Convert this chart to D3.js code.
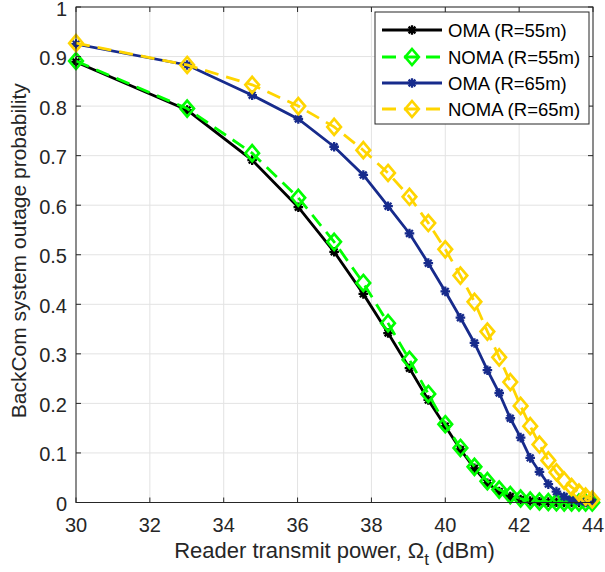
<!DOCTYPE html>
<html><head><meta charset="utf-8">
<script src="https://cdn.jsdelivr.net/npm/d3@7"></script>
<style>body{margin:0;background:#fff}svg{display:block}text{font-family:"Liberation Sans",Arial,Helvetica,sans-serif;fill:#262626}</style>
</head><body>
<script>
const xVals = [30, 33.01, 34.77, 36.02, 36.99, 37.78, 38.45, 39.03, 39.54, 40, 40.41, 40.79, 41.14, 41.46, 41.76, 42.04, 42.30, 42.55, 42.79, 43.01, 43.22, 43.42, 43.62, 43.80, 43.98];
const omaR55 = [0.889, 0.792, 0.691, 0.596, 0.506, 0.421, 0.342, 0.271, 0.207, 0.154, 0.107, 0.069, 0.039, 0.022, 0.012, 0.006, 0.003, 0.0015, 0.0008, 0.0004, 0.0002, 0.0001, 0, 0, 0];
const nomaR55 = [0.891, 0.795, 0.705, 0.615, 0.526, 0.443, 0.362, 0.288, 0.219, 0.158, 0.110, 0.072, 0.043, 0.026, 0.015, 0.008, 0.004, 0.002, 0.001, 0.0005, 0.0002, 0.0001, 0, 0, 0];
const omaR65 = [0.925, 0.883, 0.822, 0.774, 0.718, 0.661, 0.598, 0.543, 0.483, 0.426, 0.373, 0.322, 0.267, 0.221, 0.170, 0.131, 0.090, 0.062, 0.037, 0.022, 0.012, 0.006, 0.003, 0.001, 0.0005];
const nomaR65 = [0.927, 0.883, 0.843, 0.800, 0.758, 0.711, 0.665, 0.617, 0.564, 0.511, 0.458, 0.405, 0.345, 0.293, 0.243, 0.195, 0.154, 0.117, 0.085, 0.061, 0.044, 0.031, 0.020, 0.012, 0.006];
const xTicks = [30, 32, 34, 36, 38, 40, 42, 44];
const yTicks = [0, 0.1, 0.2, 0.3, 0.4, 0.5, 0.6, 0.7, 0.8, 0.9, 1];
const seriesNames = ["OMA (R=55m)", "NOMA (R=55m)", "OMA (R=65m)", "NOMA (R=65m)"];

const W = 605, H = 572;
const m = {left: 76, right: 12, top: 7, bottom: 69.5};
const svg = d3.select("body").append("svg").attr("width", W).attr("height", H);
const x = d3.scaleLinear().domain([30, 44]).range([m.left, W - m.right]);
const y = d3.scaleLinear().domain([0, 1]).range([H - m.bottom, m.top]);

// grid
const grid = svg.append("g");
grid.selectAll(".gx").data(xTicks).join("line")
  .attr("x1", d => x(d)).attr("x2", d => x(d)).attr("y1", y(0)).attr("y2", y(1))
  .attr("stroke", "#e3e3e3").attr("stroke-width", 1);
grid.selectAll(".gy").data(yTicks).join("line")
  .attr("y1", d => y(d)).attr("y2", d => y(d)).attr("x1", x(30)).attr("x2", x(44))
  .attr("stroke", "#e3e3e3").attr("stroke-width", 1);

const styles = [
  {color: "#000000", dash: null, marker: "star"},
  {color: "#00ff00", dash: "14,8", marker: "diamond"},
  {color: "#172b8c", dash: null, marker: "star"},
  {color: "#ffd500", dash: "14,8", marker: "diamond"}
];
const allData = [omaR55, nomaR55, omaR65, nomaR65];

function starPath(s) {
  const a = s * 0.707;
  return `M${-s},0L${s},0M0,${-s}L0,${s}M${-a},${-a}L${a},${a}M${-a},${a}L${a},${-a}`;
}
function diamondPath(w, h) {
  return `M0,${-h}L${w},0L0,${h}L${-w},0Z`;
}
function drawMarker(g, type, color) {
  if (type === "star") {
    g.append("path").attr("d", starPath(4.8)).attr("stroke", color).attr("stroke-width", 2.3).attr("fill", "none");
  } else {
    g.append("path").attr("d", diamondPath(6.8, 8)).attr("stroke", color).attr("stroke-width", 2.7).attr("fill", "none").attr("stroke-linejoin", "miter");
  }
}

const clipId = "plotclip";
svg.append("clipPath").attr("id", clipId).append("rect")
  .attr("x", x(30)).attr("y", y(1)).attr("width", x(44) - x(30)).attr("height", y(0) - y(1));

const line = d3.line().x(d => x(d[0])).y(d => y(d[1]));
allData.forEach((vals, i) => {
  const st = styles[i];
  const pts = xVals.map((xv, j) => [xv, vals[j]]);
  const g = svg.append("g");
  g.append("path").datum(pts).attr("d", line).attr("fill", "none")
    .attr("stroke", st.color).attr("stroke-width", 2.8)
    .attr("stroke-dasharray", st.dash).attr("clip-path", `url(#${clipId})`);
  pts.forEach(p => {
    const mg = g.append("g").attr("transform", `translate(${x(p[0])},${y(p[1])})`);
    drawMarker(mg, st.marker, st.color);
  });
});

// axes box
const ax = svg.append("g");
ax.append("rect").attr("x", x(30)).attr("y", y(1)).attr("width", x(44) - x(30)).attr("height", y(0) - y(1))
  .attr("fill", "none").attr("stroke", "#262626").attr("stroke-width", 1);
const tl = 5;
xTicks.forEach(t => {
  ax.append("line").attr("x1", x(t)).attr("x2", x(t)).attr("y1", y(0)).attr("y2", y(0) - tl).attr("stroke", "#262626");
  ax.append("line").attr("x1", x(t)).attr("x2", x(t)).attr("y1", y(1)).attr("y2", y(1) + tl).attr("stroke", "#262626");
  ax.append("text").attr("x", x(t)).attr("y", y(0) + 29).attr("text-anchor", "middle")
    .attr("font-size", 20).text(t);
});
yTicks.forEach(t => {
  ax.append("line").attr("y1", y(t)).attr("y2", y(t)).attr("x1", x(30)).attr("x2", x(30) + tl).attr("stroke", "#262626");
  ax.append("line").attr("y1", y(t)).attr("y2", y(t)).attr("x1", x(44)).attr("x2", x(44) - tl).attr("stroke", "#262626");
  ax.append("text").attr("x", x(30) - 9).attr("y", y(t) + 8.5).attr("text-anchor", "end")
    .attr("font-size", 20).text(d3.format("~g")(t));
});

// axis labels
const xl = svg.append("text").attr("x", (x(30) + x(44)) / 2).attr("y", 558).attr("text-anchor", "middle").attr("font-size", 22);
xl.append("tspan").text("Reader transmit power, Ω");
xl.append("tspan").attr("dy", 7).attr("font-size", 17).text("t");
xl.append("tspan").attr("dy", -7).text(" (dBm)");
svg.append("text").attr("transform", `translate(26,${(y(0) + y(1)) / 2 - 4}) rotate(-90)`)
  .attr("text-anchor", "middle").attr("font-size", 21).text("BackCom system outage probability");

// legend
const lg = svg.append("g");
lg.append("rect").attr("x", 375).attr("y", 12).attr("width", 214).attr("height", 112)
  .attr("fill", "#fff").attr("stroke", "#262626").attr("stroke-width", 1);
const rowY = [30, 57, 83, 109];
seriesNames.forEach((name, i) => {
  const st = styles[i];
  const ry = rowY[i];
  lg.append("line").attr("x1", 382).attr("x2", 442).attr("y1", ry).attr("y2", ry)
    .attr("stroke", st.color).attr("stroke-width", 2.8).attr("stroke-dasharray", st.dash);
  const mg = lg.append("g").attr("transform", `translate(412,${ry})`);
  drawMarker(mg, st.marker, st.color);
  lg.append("text").attr("x", 448).attr("y", ry + 7).attr("font-size", 18.5).style("fill", "#000").text(name);
});
</script>
</body></html>
